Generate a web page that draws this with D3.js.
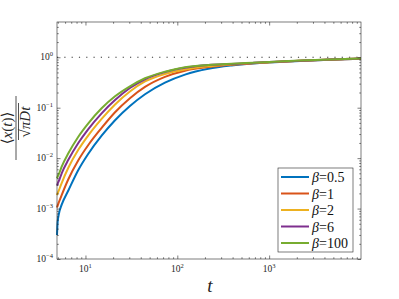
<!DOCTYPE html>
<html>
<head>
<meta charset="utf-8">
<script src="https://cdn.jsdelivr.net/npm/d3@7"></script>
<style>
  body { margin: 0; background: #fff; }
  svg { display: block; font-family: "Liberation Serif", "DejaVu Serif", serif; }
</style>
</head>
<body>
<svg id="chart" width="399" height="299"></svg>
<script>
// sample times (t)
const times = [4.9, 4.96, 5.06, 5.22, 5.51, 6.51, 8.36, 10.74, 15.0, 21.0, 30.5, 44.5, 73.4, 121.3, 217.6, 391, 672, 1000, 2170, 4600, 10000];

const betaLabels = ["0.5", "1", "2", "6", "100"];

const beta05 = [2.98e-4, 4.92e-4, 6.78e-4, 8.91e-4, 1.2e-3, 2.28e-3, 5.81e-3, 0.0122, 0.0279, 0.0565, 0.108, 0.185, 0.314, 0.453, 0.592, 0.687, 0.750, 0.787, 0.847, 0.895, 0.933];
const beta1 = [1.05e-3, 1.12e-3, 1.24e-3, 1.44e-3, 1.85e-3, 3.81e-3, 9.08e-3, 0.0182, 0.0397, 0.0811, 0.154, 0.258, 0.408, 0.540, 0.637, 0.710, 0.760, 0.793, 0.849, 0.895, 0.938];
const beta2 = [1.85e-3, 1.97e-3, 2.15e-3, 2.47e-3, 3.21e-3, 6.43e-3, 0.0146, 0.0283, 0.060, 0.116, 0.209, 0.331, 0.467, 0.573, 0.662, 0.723, 0.767, 0.800, 0.853, 0.900, 0.942];
const beta6 = [2.86e-3, 3.03e-3, 3.33e-3, 3.81e-3, 4.99e-3, 9.25e-3, 0.0199, 0.0376, 0.0774, 0.142, 0.246, 0.366, 0.508, 0.617, 0.700, 0.736, 0.774, 0.804, 0.857, 0.902, 0.946];
const beta100 = [3.97e-3, 4.2e-3, 4.58e-3, 5.2e-3, 6.75e-3, 0.01245, 0.0266, 0.049, 0.0973, 0.168, 0.265, 0.383, 0.518, 0.634, 0.703, 0.746, 0.780, 0.805, 0.861, 0.906, 0.948];

const seriesValues = [beta05, beta1, beta2, beta6, beta100];
const colors = ["#0072BD", "#D95319", "#EDB120", "#7E2F8E", "#77AC30"];

const xMajor = [10, 100, 1000];
const yMajor = [1e-4, 1e-3, 1e-2, 1e-1, 1];
const yExp = ["\u22124", "\u22123", "\u22122", "\u22121", "0"];
const xExp = ["1", "2", "3"];

const svg = d3.select("#chart");
const mLeft = 57, mRight = 361, mTop = 22, mBottom = 259;

const x = d3.scaleLog().domain([4.9, 1e4]).range([mLeft, mRight]);
const y = d3.scaleLog().domain([1e-4, 5]).range([mBottom, mTop]);

function minorTicks(scale) {
  const [a, b] = scale.domain();
  const out = [];
  for (let e = Math.floor(Math.log10(a)); e <= Math.ceil(Math.log10(b)); e++) {
    for (let m = 2; m <= 9; m++) {
      const v = m * Math.pow(10, e);
      if (v > a && v < b) out.push(v);
    }
  }
  return out;
}

const axisColor = "#262626";

// reference line at 1
svg.append("line")
  .attr("x1", mLeft).attr("x2", mRight)
  .attr("y1", y(1)).attr("y2", y(1))
  .attr("stroke", "#333")
  .attr("stroke-width", 1.1)
  .attr("stroke-dasharray", "1.2,6.1");

// curves
const line = d3.line()
  .x((d) => x(d[0]))
  .y((d) => y(d[1]))
  .curve(d3.curveMonotoneX);

const plot = svg.append("g");
seriesValues.forEach((vals, i) => {
  plot.append("path")
    .datum(times.map((t, j) => [t, vals[j]]))
    .attr("d", line)
    .attr("fill", "none")
    .attr("stroke", colors[i])
    .attr("stroke-width", 2);
});

// axes: ticks point inwards
function drawAxis(axisFn, scale, transform, major, size) {
  svg.append("g")
    .attr("transform", transform)
    .call(axisFn(scale).tickValues(minorTicks(scale)).tickSize(-size / 2).tickFormat("").tickSizeOuter(0))
    .call((g) => g.select(".domain").remove())
    .call((g) => g.selectAll("line").attr("stroke", axisColor).attr("stroke-width", 0.6));
  svg.append("g")
    .attr("transform", transform)
    .call(axisFn(scale).tickValues(major).tickSize(-size).tickFormat("").tickSizeOuter(0))
    .call((g) => g.select(".domain").remove())
    .call((g) => g.selectAll("line").attr("stroke", axisColor).attr("stroke-width", 0.6));
}
drawAxis(d3.axisBottom, x, `translate(0,${mBottom})`, xMajor, 3.5);
drawAxis(d3.axisTop, x, `translate(0,${mTop})`, xMajor, 3.5);
drawAxis(d3.axisLeft, y, `translate(${mLeft},0)`, yMajor, 3.5);
drawAxis(d3.axisRight, y, `translate(${mRight},0)`, yMajor, 3.5);

// box
svg.append("rect")
  .attr("x", mLeft).attr("y", mTop)
  .attr("width", mRight - mLeft).attr("height", mBottom - mTop)
  .attr("fill", "none")
  .attr("stroke", axisColor)
  .attr("stroke-width", 0.6);

// tick labels
const xl = svg.append("g").attr("fill", axisColor).attr("font-size", 9.5);
xMajor.forEach((v, i) => {
  const t = xl.append("text").attr("x", x(v)).attr("y", 272).attr("text-anchor", "middle");
  t.append("tspan").text("10");
  t.append("tspan").attr("dy", -4).attr("font-size", 6.5).text(xExp[i]);
});
const yl = svg.append("g").attr("fill", axisColor).attr("font-size", 9.5);
yMajor.forEach((v, i) => {
  const t = yl.append("text").attr("x", 53).attr("y", y(v) + 3).attr("text-anchor", "end");
  t.append("tspan").text("10");
  t.append("tspan").attr("dy", -4).attr("font-size", 6.5).text(yExp[i]);
});

// axis labels
svg.append("text")
  .attr("x", 210).attr("y", 292)
  .attr("text-anchor", "middle")
  .attr("font-size", 19)
  .attr("font-style", "italic")
  .attr("fill", axisColor)
  .text("t");

const yLab = svg.append("g")
  .attr("transform", "translate(16,128) rotate(-90)")
  .attr("fill", axisColor)
  .attr("font-size", 15);
yLab.append("text")
  .attr("x", 0).attr("y", -4)
  .attr("text-anchor", "middle")
  .html('<tspan>\u27E8</tspan><tspan font-style="italic">x</tspan><tspan>(</tspan><tspan font-style="italic">t</tspan><tspan>)\u27E9</tspan>');
yLab.append("line")
  .attr("x1", -32).attr("x2", 32).attr("y1", 0).attr("y2", 0)
  .attr("stroke", axisColor).attr("stroke-width", 0.8);
yLab.append("text")
  .attr("x", 6).attr("y", 14)
  .attr("text-anchor", "middle")
  .html('<tspan>\u221A</tspan><tspan font-style="italic">\u03C0Dt</tspan>');
yLab.append("line")
  .attr("x1", -12).attr("x2", 25).attr("y1", 2.5).attr("y2", 2.5)
  .attr("stroke", axisColor).attr("stroke-width", 0.8);

// legend
const lg = svg.append("g").attr("transform", "translate(278,168)");
lg.append("rect")
  .attr("width", 75).attr("height", 84)
  .attr("fill", "#fff")
  .attr("stroke", axisColor)
  .attr("stroke-width", 0.6);
betaLabels.forEach((b, i) => {
  const ry = 9 + i * 16.5;
  lg.append("line")
    .attr("x1", 3).attr("x2", 31).attr("y1", ry).attr("y2", ry)
    .attr("stroke", colors[i]).attr("stroke-width", 2);
  const t = lg.append("text")
    .attr("x", 34).attr("y", ry + 5)
    .attr("font-size", 14)
    .attr("fill", "#111");
  t.append("tspan").attr("font-style", "italic").text("\u03B2");
  t.append("tspan").text("=" + b);
});
</script>
</body>
</html>
